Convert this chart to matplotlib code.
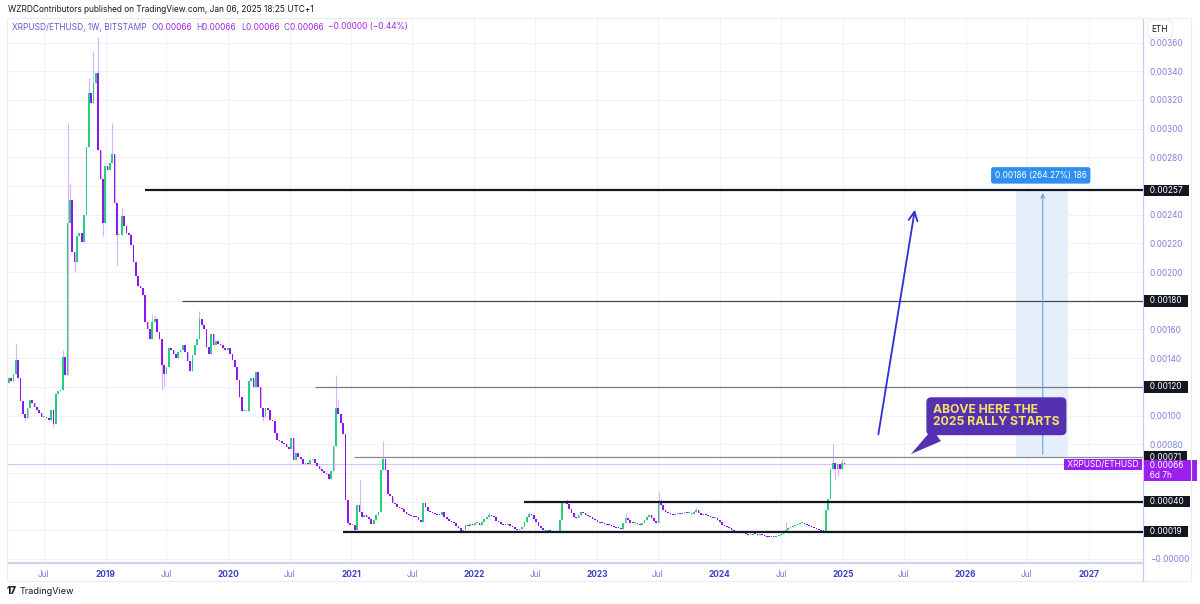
import numpy as np
import pandas as pd
import matplotlib
matplotlib.use("Agg")
import matplotlib.pyplot as plt
import matplotlib.dates as mdates
from matplotlib.lines import Line2D
from matplotlib.patches import Rectangle
from matplotlib.offsetbox import TextArea, HPacker, AnchoredOffsetbox

plt.rcParams['font.family'] = ['Inter', 'DejaVu Sans']

# weekly closes of XRPUSD/ETHUSD, in units of 1e-5 ETH
closes_2018_19 = [126, 124, 129, 139, 126, 110, 101, 98, 105, 111, 109, 106, 104, 102, 99, 99, 98, 97,
                  104, 94, 115, 117, 118, 141, 128, 234, 250, 214, 207, 225, 227, 221, 240, 287, 325,
                  318, 332, 339, 285, 265, 234, 274, 271, 276, 282, 248, 226, 226, 239, 232, 227, 226,
                  219, 207, 197, 190, 189, 184, 165]
closes_2019_20 = [160, 153, 165, 167, 158, 153, 135, 129, 134, 147, 146, 143, 140, 144, 146, 149, 144,
                  138, 131, 142, 149, 153, 167, 163, 160, 148, 143, 157, 149, 152, 150, 149, 147, 146,
                  147, 143, 139, 134, 125, 113, 103, 103, 103, 124, 126, 120, 130, 120, 105, 99, 105,
                  104, 97, 96, 88, 83, 82, 81, 80]
closes_2020_21 = [78, 77, 84, 69, 74, 71, 70, 66, 67, 66, 69, 70, 67, 65, 63, 61, 60, 59, 56, 61, 79,
                  105, 101, 95, 87, 41, 25, 24, 24, 20.5, 37.6, 33, 29, 31, 29, 28, 24.5, 27, 30.5, 33,
                  62, 70, 62, 45, 44, 39, 38, 36.5, 35.5, 34.5, 33, 31.5, 30.5, 30, 29.6, 29, 27.5, 26]
closes_2021_22 = [38.8, 36.4, 33.5, 32.5, 32, 31.5, 31, 30.5, 32.9, 29.5, 27.7, 26.5, 26, 25, 23, 21.5,
                  19.8, 20.5, 23.6, 23, 24.5, 23.6, 24.8, 25, 24, 26, 28, 29.5, 31, 30, 29, 26.5, 25.5,
                  24.5, 24, 23.5, 24.5, 23, 22, 21, 20.5, 21, 22.5, 26, 29, 31.4, 31, 28, 26, 23, 21.5,
                  20.5, 19.3, 20, 19.5, 19, 19.5, 19, 27, 39, 40]
closes_2022_23 = [38, 35, 32, 29.5, 28.4, 30.6, 33, 32, 31, 30, 29, 28, 27, 26, 25.3, 25, 24.5, 24,
                  23.4, 23, 22.5, 21.8, 21.4, 20.7, 24.9, 28.4, 27.2, 25.3, 24.9, 25.3, 24.1, 23.6,
                  25.3, 27.2, 29, 30.7, 28.4, 26.7, 25.3, 40, 37.3, 34.2, 33, 32, 31.5, 31, 31.4, 31.8,
                  31.2, 31.8, 32.3, 31.8, 31.8, 31.5, 33, 34, 31.8, 31, 31.5]
closes_2023_25 = [31, 30, 29, 28.3, 28.3, 27.3, 25.5, 24, 23.2, 22.4, 21.3, 20.2, 19.4, 18.8, 17.8,
                  18.5, 18.2, 17.6, 17, 17, 17.6, 17.2, 17, 17.5, 16.5, 15.8, 15.6, 15.3, 15, 15.1,
                  15.9, 16.9, 17.6, 18.8, 20.2, 21.4, 22.4, 23.1, 23.6, 24.3, 24.8, 25.2, 24.5, 23.6,
                  22.8, 22.2, 21.6, 21, 20.3, 19.7, 19.5, 34, 42, 63, 67, 63, 66, 63, 67, 66]
first_open = 123
first_week = '2018-03-19'

# visible wicks: candle number (1 = first week) -> high / low, 1e-5 ETH
wick_highs = {4: 150, 24: 146, 26: 304, 27: 262, 35: 335, 37: 354, 39: 364, 45: 304, 49: 245,
              62: 171, 63: 170, 82: 173, 140: 128, 141: 111, 150: 55, 160: 82, 205: 33, 222: 33,
              238: 42, 263: 32, 277: 47, 278: 42, 293: 36.5, 331: 25.5, 351: 80, 355: 70}
wick_lows = {8: 96, 20: 92, 29: 200, 41: 225, 47: 205, 66: 118, 67: 120, 109: 96, 148: 18.6,
             193: 19, 234: 18.6, 325: 14.5, 352: 55, 353: 58}

# drawn horizontal levels
level_prices = [0.00257, 0.00180, 0.00120, 0.00071, 0.00040, 0.00019]
level_starts = ['2019-04-28', '2019-08-17', '2020-09-16', '2021-01-10', '2022-05-30', '2020-12-08']
last_price = 0.00066

tick_dates = ['2018-07-01', '2019-01-01', '2019-07-01', '2020-01-01', '2020-07-01', '2021-01-01',
              '2021-07-01', '2022-01-01', '2022-07-01', '2023-01-01', '2023-07-01', '2024-01-01',
              '2024-07-01', '2025-01-01', '2025-07-01', '2026-01-01', '2026-07-01', '2027-01-01']
tick_labels = ['Jul', '2019', 'Jul', '2020', 'Jul', '2021', 'Jul', '2022', 'Jul', '2023', 'Jul',
               '2024', 'Jul', '2025', 'Jul', '2026', 'Jul', '2027']

closes = np.array(closes_2018_19 + closes_2019_20 + closes_2020_21 + closes_2021_22
                  + closes_2022_23 + closes_2023_25) * 1e-5
opens = np.concatenate([[first_open * 1e-5], closes[:-1]])
weeks = pd.date_range(first_week, periods=len(closes), freq='7D')
highs = np.maximum(opens, closes)
lows = np.minimum(opens, closes)
for k, v in wick_highs.items():
    highs[k - 1] = max(highs[k - 1], v * 1e-5)
for k, v in wick_lows.items():
    lows[k - 1] = min(lows[k - 1], v * 1e-5)

GREEN = '#27cf7a'
PURPLE = '#8d17f2'
WICK = '#d9b3f7'

fig = plt.figure(figsize=(12, 6.04), dpi=100)
ax = fig.add_axes([8 / 1200, 1 - 563 / 604, 1135 / 1200, 545 / 604])

x = mdates.date2num(weeks)
up = closes >= opens
ax.vlines(x, lows, highs, color=WICK, lw=0.8, zorder=2)
body_h = np.maximum(np.abs(closes - opens), 0.000007)
ax.bar(x, body_h, bottom=np.minimum(opens, closes), width=5.0,
       color=np.where(up, GREEN, PURPLE), lw=0, zorder=3)

xmin = mdates.date2num(pd.Timestamp('2018-03-17'))
xmax = mdates.date2num(pd.Timestamp('2027-06-12'))
ax.set_xlim(xmin, xmax)
ax.set_ylim(-0.000028, 0.003771)

# grid and axes; tick labels hidden where a price tag covers them
price_ticks = np.round(np.arange(0, 0.00361, 0.0002), 5)
covered = [0.0002, 0.0004, 0.0006, 0.0012, 0.0018, 0.0026]
ax.set_yticks(price_ticks)
ax.set_yticklabels(['−0.00000' if v == 0 else ('' if any(abs(v - c) < 1e-9 for c in covered)
                    else f'{v:.5f}') for v in price_ticks])
ax.yaxis.tick_right()
ax.tick_params(axis='y', length=0, pad=5, labelsize=6, labelcolor='#7c80e4')
ax.set_xticks(mdates.date2num(pd.to_datetime(tick_dates)))
ax.set_xticklabels(tick_labels)
ax.tick_params(axis='x', length=0, pad=5, labelsize=6)
for lab in ax.get_xticklabels():
    if lab.get_text() == 'Jul':
        lab.set_color('#7479e0')
    else:
        lab.set_color('#3c40c8')
        lab.set_fontweight('bold')
ax.grid(color='#f1f1f7', lw=0.8)
ax.set_axisbelow(True)
for s in ['top', 'left']:
    ax.spines[s].set_visible(False)
ax.spines['bottom'].set_color('#d2d3f3')
ax.spines['bottom'].set_linewidth(1.6)
ax.spines['right'].set_color('#c9cbf2')
ax.spines['right'].set_linewidth(0.9)

# chart frame, date strip
fig.add_artist(Rectangle((7 / 1200, 1 - 581 / 604), 1184 / 1200, 563 / 604, transform=fig.transFigure,
                         fill=False, ec='#ececf1', lw=0.8))
fig.add_artist(Line2D([1143 / 1200] * 2, [1 - 581 / 604, 1 - 563 / 604], color='#c9cbf2', lw=0.9))

# level lines
level_styles = [('#131722', 1.6), ('#4a4a4a', 0.9), ('#7a7a7a', 0.9),
                ('#8a8a8a', 0.9), ('#131722', 1.6), ('#131722', 1.6)]
for p, st, (c, w) in zip(level_prices, level_starts, level_styles):
    ax.hlines(p, mdates.date2num(pd.Timestamp(st)), xmax, color=c, lw=w, zorder=4)
ax.axhline(last_price, color='#dcc0f6', lw=0.8, zorder=1)

# measurement zone
m0 = mdates.date2num(pd.Timestamp('2026-05-30'))
m1 = mdates.date2num(pd.Timestamp('2026-11-02'))
mx = mdates.date2num(pd.Timestamp('2026-08-18'))
ax.add_patch(Rectangle((m0, 0.00071), m1 - m0, 0.00257 - 0.00071, fc='#e6f0fc', ec='none', zorder=1.5))
ax.annotate('', xy=(mx, 0.00257), xytext=(mx, 0.00071),
            arrowprops=dict(arrowstyle='->', color='#6f9fe6', lw=0.8, mutation_scale=7), zorder=4)
ax.text(mdates.date2num(pd.Timestamp('2026-08-12')), 0.002674, '0.00186 (264.27%) 186',
        ha='center', va='center', fontsize=6, color='white', zorder=6,
        bbox=dict(boxstyle='round,pad=0.45,rounding_size=0.3', fc='#2f8ff0', ec='none'))

# projection arrow
ax.annotate('', xy=(mdates.date2num(pd.Timestamp('2025-08-04')), 0.002453),
            xytext=(mdates.date2num(pd.Timestamp('2025-04-15')), 0.00085),
            arrowprops=dict(arrowstyle='->', color='#2d2ed6', lw=1.3, mutation_scale=16), zorder=5)

# callout
ax.annotate('ABOVE HERE THE\n2025 RALLY STARTS',
            xy=(mdates.date2num(pd.Timestamp('2025-07-22')), 0.000731),
            xytext=(mdates.date2num(pd.Timestamp('2025-09-26')), 0.000995),
            ha='left', va='center', fontsize=8.8, fontweight='bold', color='#f6e366',
            linespacing=1.05, zorder=7,
            bbox=dict(boxstyle='round,pad=0.55,rounding_size=0.4', fc='#5530b0', ec='none'),
            arrowprops=dict(arrowstyle='wedge,tail_width=1.2,shrink_factor=0.5', fc='#5530b0',
                            ec='none', relpos=(0.1, 0.0), shrinkA=0, shrinkB=0))


def tag(value, text, fc, tc='white', side='right', va='center'):
    if side == 'right':
        off, ha = (1.5, 0), 'left'
    else:
        off, ha = (-1.5, 0), 'right'
    ax.annotate(text, xy=(1, value), xycoords=ax.get_yaxis_transform(), xytext=off,
                textcoords='offset points', ha=ha, va=va, fontsize=6, color=tc,
                linespacing=1.15, bbox=dict(boxstyle='square,pad=0.15', fc=fc, ec='none'),
                annotation_clip=False, zorder=10)


for p in level_prices:
    tag(p, f'  {p:.5f}  ', '#131722')
tag(last_price, ' XRPUSD/ETHUSD ', '#9a1ff0', side='left')
tag(0.000682, '  0.00066     \n  6d 7h', '#9a1ff0', va='top')

# currency box
fig.text(1160 / 1200, 1 - 29 / 604, 'ETH', ha='center', va='center', fontsize=6, color='#131722',
         bbox=dict(boxstyle='round,pad=0.5', fc='white', ec='#ececf1', lw=0.6))

# header
fig.text(8 / 1200, 1 - 10 / 604, 'WZRDContributors published on TradingView.com, Jan 06, 2025 18:25 UTC+1',
         ha='left', va='center', fontsize=6, color='#131722')
blue = '#6157d8'
vio = '#a726e6'
parts = [('XRPUSD/ETHUSD, 1W, BITSTAMP  ', blue), ('O', blue), ('0.00066  ', vio), ('H', blue),
         ('0.00066  ', vio), ('L', blue), ('0.00066  ', vio), ('C', blue), ('0.00066  ', vio),
         ('−0.00000 (−0.44%)', vio)]
boxes = [TextArea(t, textprops=dict(color=c, fontsize=6)) for t, c in parts]
pack = HPacker(children=boxes, align='baseline', pad=0, sep=0)
fig.add_artist(AnchoredOffsetbox(loc='center left', child=pack, frameon=False, pad=0, borderpad=0,
                                 bbox_to_anchor=(12 / 1200, 1 - 27 / 604),
                                 bbox_transform=fig.transFigure))

# footer
fig.text(7 / 1200, 1 - 591 / 604, '17', ha='left', va='center', fontsize=7, fontweight='heavy',
         color='#131722')
fig.text(20 / 1200, 1 - 591 / 604, 'TradingView', ha='left', va='center', fontsize=6.5, color='#131722')

fig.savefig('out.png', dpi=100, facecolor='white')
